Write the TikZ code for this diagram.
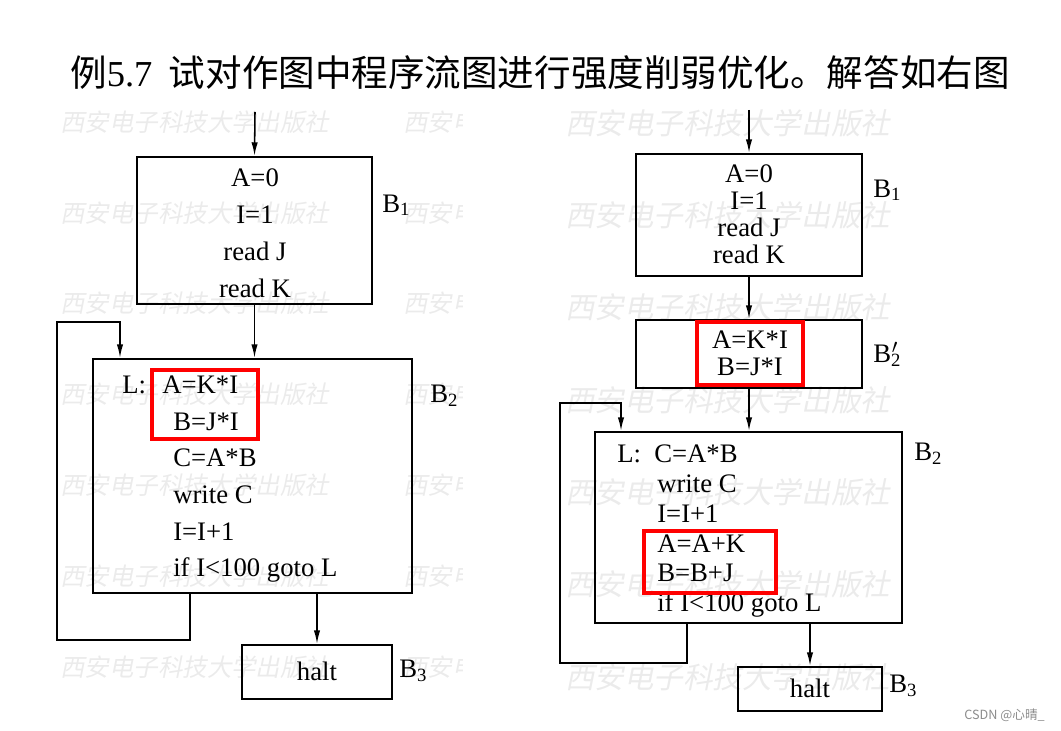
\documentclass[tikz,border=0pt]{standalone}
\usepackage{fontspec}
\setmainfont{Liberation Serif}
\newfontfamily\cjk{Noto Sans CJK SC}
\newfontfamily\wmfont[FakeSlant=0.2]{Noto Sans CJK SC}
\usetikzlibrary{arrows.meta}

\begin{document}
\begin{tikzpicture}[
  x=0.25mm, y=-0.25mm,
  blk/.style={draw, line width=1.6pt, inner sep=0pt},
  hl/.style={draw=red, line width=2.6pt, inner sep=0pt},
  arr/.style={-{Latex[length=3.4mm, width=1.6mm]}, line width=1.1pt},
  code/.style={font=\fontsize{19}{22}\selectfont, inner sep=0pt, anchor=base west},
  ctr/.style={font=\fontsize{19}{22}\selectfont, inner sep=0pt, anchor=base},
  lbl/.style={font=\fontsize{19}{22}\selectfont, inner sep=0pt, anchor=base west},
  wm/.style={font=\wmfont\fontsize{17.4}{20}\selectfont, text=black!8, inner sep=0pt, anchor=west}
]
\useasboundingbox (0,0) rectangle (1061,730);

% watermarks
\begin{scope}
  \clip (0,100) rectangle (462,730);
  \foreach \r in {0,...,6} {
    \node[wm] (wl\r) at (60,122+90.8*\r) {西安电子科技大学出版社};
    \node[wm] (wm\r) at (403,122+90.8*\r) {西安电子科技大学出版社};
  }
\end{scope}
\foreach \r in {0,...,6}
  \node[wm, font=\wmfont\fontsize{21}{24}\selectfont] (wr\r) at (565,123+92.3*\r) {西安电子科技大学出版社};

% title
\node[anchor=west, inner sep=0pt, font=\fontsize{26}{30}\selectfont] (title) at (70,73)
  {{\cjk 例}5.7\hspace{0.45em}{\cjk 试对作图中程序流图进行强度削弱优化。解答如右图}};

% left: original flow graph
\node[blk, minimum width=58.75mm, minimum height=36.75mm] (b1) at (254.5,230.5) {};
\node[blk, minimum width=79.75mm, minimum height=58.5mm] (b2) at (252.5,476) {};
\node[blk, minimum width=37.5mm, minimum height=13.5mm] (b3) at (317,672) {};

\foreach \y/\t in {186/A=0, 223/I=1, 260/read J, 297/read K}
  \node[ctr] (t1\y) at (255,\y) {\t};
\node[code] (lab) at (122,393) {L:};
\node[code] (t2a) at (162,393) {A=K*I};
\foreach \y/\t in {430/B=J*I, 466/C=A*B, 503/write C, 540/I=I+1, 576/if I<100 goto L}
  \node[code] (t2\y) at (173,\y) {\t};
\node[ctr] (t3) at (317,680) {halt};
\node[hl, minimum width=26.5mm, minimum height=17.25mm] (hl1) at (205,404.5) {};

\node[lbl] (n1) at (382,212) {B\textsubscript{1}};
\node[lbl] (n2) at (430,402) {B\textsubscript{2}};
\node[lbl] (n3) at (399,677) {B\textsubscript{3}};

\coordinate (in1) at (255,112);
\coordinate (lpa) at (190,640);
\coordinate (lpb) at (57,322);
\coordinate (lpc) at (120,322);
\draw[arr] (in1) -- (b1.north);
\draw[arr] (b1.south) -- (b1.south |- b2.north);
\draw[arr] (lpa |- b2.south) -- (lpa) -| (lpb) -- (lpc) -- (lpc |- b2.north);
\draw[arr] (b3.north |- b2.south) -- (b3.north);

% right: after strength reduction
\node[blk, minimum width=56.5mm, minimum height=30.5mm] (rb1) at (749,215) {};
\node[blk, minimum width=56.5mm, minimum height=17mm] (rb2p) at (749,354) {};
\node[blk, minimum width=76.75mm, minimum height=47.75mm] (rb2) at (748.5,527.5) {};
\node[blk, minimum width=36mm, minimum height=11mm] (rb3) at (810,689) {};

\foreach \y/\t in {182/A=0, 209/I=1, 236/read J, 263/read K}
  \node[ctr] (r1\y) at (749,\y) {\t};
\node[ctr] (r2a) at (750,348) {A=K*I};
\node[ctr] (r2b) at (750,375) {B=J*I};
\node[code] (rlab) at (617,462) {L:};
\node[code] (r3a) at (654,462) {C=A*B};
\foreach \y/\t in {492/write C, 522/I=I+1, 552/A=A+K, 581/B=B+J, 611/if I<100 goto L}
  \node[code] (r3\y) at (657,\y) {\t};
\node[ctr] (r4) at (810,697) {halt};
\node[hl, minimum width=26.5mm, minimum height=15.75mm] (hl2) at (750,353.5) {};
\node[hl, minimum width=33mm, minimum height=15.5mm] (hl3) at (710,562) {};

\node[lbl] (m1) at (873,197) {B\textsubscript{1}};
\node[lbl] (m2) at (873,362) {B\rlap{\textsuperscript{\kern0.5pt$\prime$}}\textsubscript{2}};
\node[lbl] (m3) at (914,460) {B\textsubscript{2}};
\node[lbl] (m4) at (889,692) {B\textsubscript{3}};

\coordinate (in2) at (749,110);
\coordinate (rpa) at (687,663);
\coordinate (rpb) at (560,403);
\coordinate (rpc) at (621,403);
\draw[arr] (in2) -- (rb1.north);
\draw[arr] (rb1.south) -- (rb2p.north);
\draw[arr] (rb2p.south) -- (rb2p.south |- rb2.north);
\draw[arr] (rpa |- rb2.south) -- (rpa) -| (rpb) -- (rpc) -- (rpc |- rb2.north);
\draw[arr] (rb3.north |- rb2.south) -- (rb3.north);

\node[anchor=base east, inner sep=0pt, text=black!45, font=\cjk\fontsize{9}{10}\selectfont] (csdn) at (1045,719) {CSDN @心晴\_};
\end{tikzpicture}
\end{document}
